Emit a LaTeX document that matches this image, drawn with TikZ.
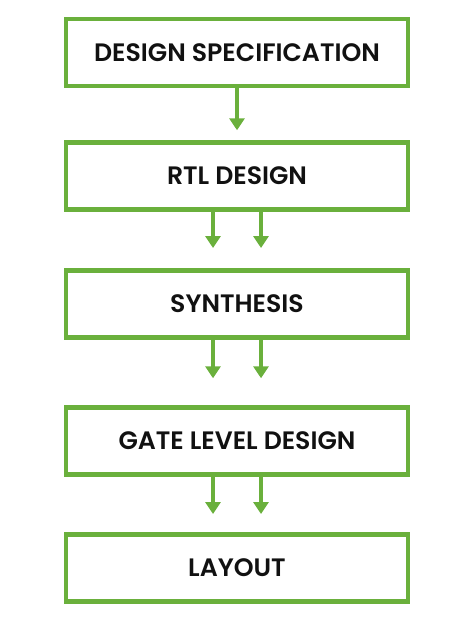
\documentclass[tikz,border=0pt]{standalone}
\usepackage{fontspec}
\setmainfont{Poppins}[BoldFont={Poppins SemiBold}]
\usetikzlibrary{arrows.meta}
\definecolor{lgreen}{RGB}{106,176,60}
\definecolor{ink}{RGB}{17,17,17}
\tikzset{
  stepbox/.style={draw=lgreen, line width=4.5pt, minimum width=342pt, minimum height=67pt, inner sep=0pt, fill=white, text=ink, font=\fontsize{25.2}{27}\selectfont\bfseries},
  flow/.style={draw=lgreen, line width=4.5pt, -{Triangle[width=15pt,length=12pt]}, lgreen}
}
\begin{document}
\begin{tikzpicture}[x=1pt,y=-1pt]
\useasboundingbox (0,0) rectangle (474,632);
\node[stepbox] (b1) at (237,52.5) {DESIGN SPECIFICATION};
\node[stepbox] (b2) at (237,176) {RTL DESIGN};
\node[stepbox] (b3) at (237,303.75) {SYNTHESIS};
\node[stepbox] (b4) at (237,441) {GATE LEVEL DESIGN};
\node[stepbox] (b5) at (237,567.75) {LAYOUT};
\draw[flow, shorten >=10pt] (b1.south) -- (b2.north);
\draw[flow, shorten >=20pt] ([xshift=-24pt]b2.south) -- ([xshift=-24pt]b3.north);
\draw[flow, shorten >=20pt] ([xshift=24pt]b2.south) -- ([xshift=24pt]b3.north);
\draw[flow, shorten >=27pt] ([xshift=-24pt]b3.south) -- ([xshift=-24pt]b4.north);
\draw[flow, shorten >=27pt] ([xshift=24pt]b3.south) -- ([xshift=24pt]b4.north);
\draw[flow, shorten >=18pt] ([xshift=-24pt]b4.south) -- ([xshift=-24pt]b5.north);
\draw[flow, shorten >=18pt] ([xshift=24pt]b4.south) -- ([xshift=24pt]b5.north);
\end{tikzpicture}
\end{document}
